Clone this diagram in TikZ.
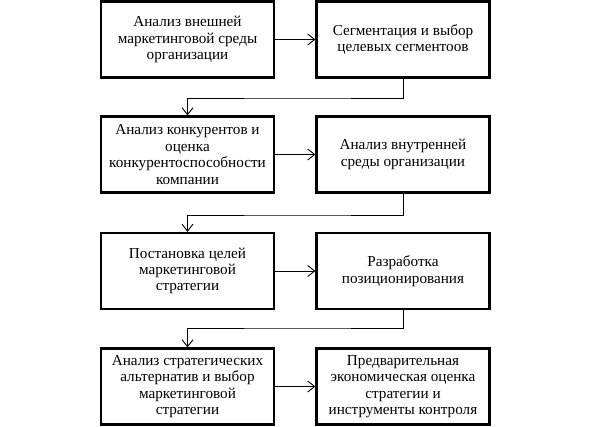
\documentclass[tikz,border=0pt]{standalone}
\usepackage{fontspec}
\setmainfont{Liberation Serif}
\usetikzlibrary{arrows.meta}
\begin{document}
\begin{tikzpicture}[x=1pt,y=-1pt,
  box/.style={draw,line width=2.2pt,minimum width=173pt,minimum height=76pt,
    inner sep=2pt,align=center,font=\fontsize{15.2}{16.4}\selectfont},
  conn/.style={line width=0.9pt,-{Straight Barb[length=7pt,width=11pt,line width=0.9pt]}}]
\useasboundingbox (0,0) rectangle (591,427);
\node[box] (l1) at (187.5,39.5) {Анализ внешней\\маркетинговой среды\\организации};
\node[box] (r1) at (403,39.5) {Сегментация и выбор\\целевых сегментоов};
\node[box] (l2) at (187.5,154.5) {Анализ конкурентов и\\оценка\\конкурентоспособности\\компании};
\node[box] (r2) at (403,154.5) {Анализ внутренней\\среды организации};
\node[box] (l3) at (187.5,271) {Постановка целей\\маркетинговой\\стратегии};
\node[box] (r3) at (403,271) {Разработка\\позиционирования};
\node[box] (l4) at (187.5,386.5) {Анализ стратегических\\альтернатив и выбор\\маркетинговой\\стратегии};
\node[box] (r4) at (403,386.5) {Предварительная\\экономическая оценка\\стратегии и\\инструменты контроля};
\coordinate (c1) at (300,98);
\coordinate (c2) at (300,215);
\coordinate (c3) at (300,328);
\foreach \i in {1,...,4}{\draw[conn] (l\i) -- (r\i);}
\draw[conn] (r1.south) |- (c1) -| (l2.north);
\draw[conn] (r2.south) |- (c2) -| (l3.north);
\draw[conn] (r3.south) |- (c3) -| (l4.north);
\end{tikzpicture}
\end{document}
